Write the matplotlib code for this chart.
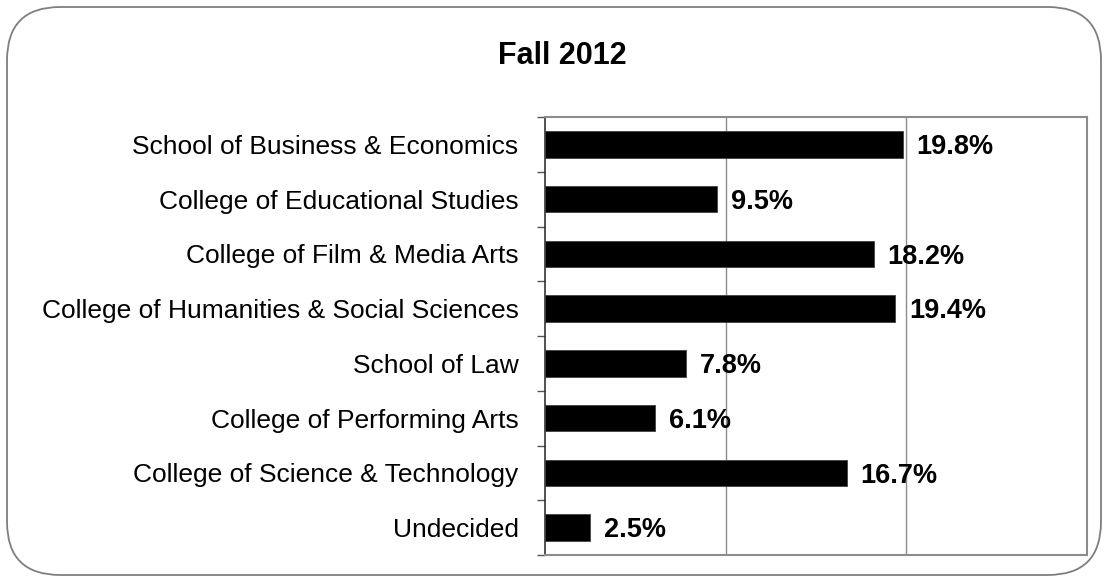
import matplotlib
matplotlib.use("Agg")
import matplotlib.pyplot as plt
from matplotlib.patches import FancyBboxPatch
from matplotlib.ticker import FixedLocator

categories = [
    "School of Business & Economics",
    "College of Educational Studies",
    "College of Film & Media Arts",
    "College of Humanities & Social Sciences",
    "School of Law",
    "College of Performing Arts",
    "College of Science & Technology",
    "Undecided",
]
values = [19.8, 9.5, 18.2, 19.4, 7.8, 6.1, 16.7, 2.5]
value_labels = ["19.8%", "9.5%", "18.2%", "19.4%", "7.8%", "6.1%", "16.7%", "2.5%"]
title = "Fall 2012"

plt.rcParams['font.family'] = ['Liberation Sans', 'DejaVu Sans']

W, H = 1108, 582
fig = plt.figure(figsize=(W / 100, H / 100), dpi=100)

# rounded border
box = FancyBboxPatch((7 / W, 7 / H), (W - 14) / W, (H - 14) / H,
                     boxstyle="round,pad=0,rounding_size=0.048",
                     transform=fig.transFigure, facecolor="none",
                     edgecolor="#7f7f7f", linewidth=1.3, mutation_aspect=W / H,
                     zorder=-1)
fig.patches.append(box)

ax = fig.add_axes([545 / W, 1 - 555 / H, (1087 - 545) / W, (555 - 117) / H])
ax.set_facecolor("none")

n = len(categories)
ypos = list(range(n))
ax.barh(ypos, values, height=0.48, color="black", edgecolor="#404040", linewidth=0.6, zorder=3)
ax.set_ylim(n - 0.5, -0.5)
ax.set_xlim(0, 30)

for y, v, lab in zip(ypos, values, value_labels):
    ax.annotate(lab, (v, y), xytext=(10, -2), textcoords="offset points",
                ha="left", va="center", fontsize=19.5, fontweight="bold", zorder=4)

ax.set_yticks(ypos)
ax.set_yticklabels(categories, fontsize=19)
ax.yaxis.set_minor_locator(FixedLocator([i - 0.5 for i in range(n + 1)]))
ax.tick_params(axis="y", which="major", length=0, pad=19)
ax.tick_params(axis="y", which="minor", length=6, width=1, color="#555555", direction="out")
ax.set_xticks([10, 20])
ax.tick_params(axis="x", which="both", length=0, labelbottom=False)
ax.grid(axis="x", color="#8c8c8c", linewidth=1, zorder=0)

for side in ["top", "right", "bottom"]:
    ax.spines[side].set_color("#8c8c8c")
    ax.spines[side].set_linewidth(1.5)
ax.spines["left"].set_color("#333333")
ax.spines["left"].set_linewidth(1.2)

fig.text(562 / W, 1 - 56 / H, title, ha="center", va="center",
         fontsize=22, fontweight="bold")

fig.savefig("out.png", dpi=100)
